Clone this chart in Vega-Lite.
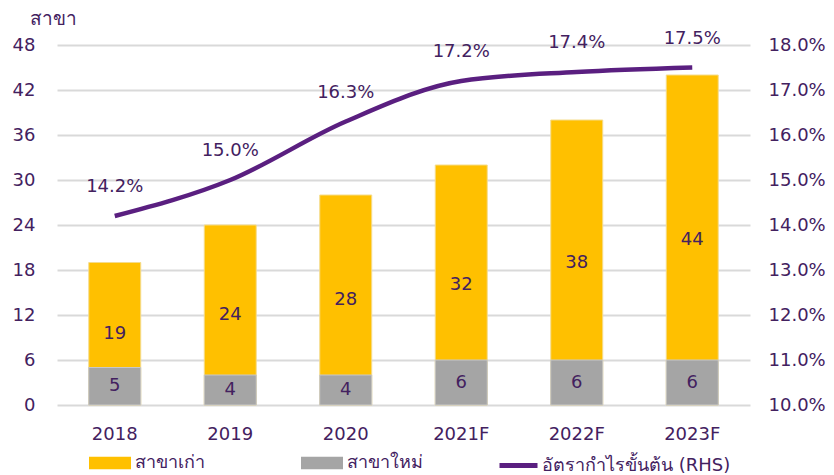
{
  "$schema": "https://vega.github.io/schema/vega-lite/v6.json",
  "width": 693,
  "height": 360,
  "autosize": {"type": "none"},
  "padding": {"left": 57, "top": 45, "right": 84, "bottom": 70},
  "background": "white",
  "config": {
    "view": {"stroke": null},
    "font": "DejaVu Sans",
    "axis": {"labelFont": "DejaVu Sans", "labelColor": "#43215f", "labelFontSize": 18, "titleColor": "#43215f"},
    "legend": {"labelFont": "DejaVu Sans", "labelColor": "#43215f", "labelFontSize": 18, "labelLimit": 400}
  },
  "datasets": {
    "old": [
      {"year": "2018", "series": "สาขาเก่า", "value": 19},
      {"year": "2019", "series": "สาขาเก่า", "value": 24},
      {"year": "2020", "series": "สาขาเก่า", "value": 28},
      {"year": "2021F", "series": "สาขาเก่า", "value": 32},
      {"year": "2022F", "series": "สาขาเก่า", "value": 38},
      {"year": "2023F", "series": "สาขาเก่า", "value": 44}
    ],
    "new": [
      {"year": "2018", "series": "สาขาใหม่", "value": 5},
      {"year": "2019", "series": "สาขาใหม่", "value": 4},
      {"year": "2020", "series": "สาขาใหม่", "value": 4},
      {"year": "2021F", "series": "สาขาใหม่", "value": 6},
      {"year": "2022F", "series": "สาขาใหม่", "value": 6},
      {"year": "2023F", "series": "สาขาใหม่", "value": 6}
    ],
    "margin": [
      {"year": "2018", "series": "อัตรากำไรขั้นต้น (RHS)", "margin": 0.142},
      {"year": "2019", "series": "อัตรากำไรขั้นต้น (RHS)", "margin": 0.150},
      {"year": "2020", "series": "อัตรากำไรขั้นต้น (RHS)", "margin": 0.163},
      {"year": "2021F", "series": "อัตรากำไรขั้นต้น (RHS)", "margin": 0.172},
      {"year": "2022F", "series": "อัตรากำไรขั้นต้น (RHS)", "margin": 0.174},
      {"year": "2023F", "series": "อัตรากำไรขั้นต้น (RHS)", "margin": 0.175}
    ]
  },
  "encoding": {
    "x": {
      "field": "year", "type": "nominal", "sort": null,
      "scale": {"paddingInner": 0.55, "paddingOuter": 0.275},
      "axis": {"title": null, "labelAngle": 0, "ticks": false, "domain": false, "labelPadding": 20, "labelFontSize": 18}
    }
  },
  "layer": [
    {
      "layer": [
        {
          "data": {"name": "old"},
          "mark": {"type": "bar", "stroke": "#f5dc8c", "strokeWidth": 1},
          "encoding": {
            "y": {
              "field": "value", "type": "quantitative",
              "scale": {"domain": [0, 48], "nice": false},
              "axis": {
                "values": [0, 6, 12, 18, 24, 30, 36, 42, 48],
                "title": "สาขา", "titleAngle": 0, "titleAlign": "left", "titleBaseline": "middle",
                "titleX": -28, "titleY": -27, "titleFontSize": 19, "titleFontWeight": "normal",
                "ticks": false, "domain": false, "labelPadding": 22,
                "gridColor": "#d9d9d9", "gridWidth": 2
              }
            },
            "color": {
              "field": "series", "type": "nominal",
              "scale": {"domain": ["สาขาเก่า", "สาขาใหม่"], "range": ["#FFC000", "#A5A5A5"]},
              "legend": {
                "title": null, "orient": "none", "direction": "horizontal",
                "legendX": 32, "legendY": 397, "columnPadding": 96,
                "symbolSize": 1764, "labelOffset": 4,
                "symbolType": "M-1,-0.3H1V0.3H-1Z",
                "symbolStrokeWidth": 0, "symbolOpacity": 1
              }
            }
          }
        },
        {
          "data": {"name": "new"},
          "mark": {"type": "bar", "stroke": "#c8c8c8", "strokeWidth": 1},
          "encoding": {
            "y": {"field": "value", "type": "quantitative"},
            "color": {"field": "series", "type": "nominal"}
          }
        },
        {
          "data": {"name": "old"},
          "transform": [{"calculate": "datum.value / 2", "as": "mid"}],
          "mark": {"type": "text", "fontSize": 18, "color": "#43215f", "font": "DejaVu Sans"},
          "encoding": {
            "y": {"field": "mid", "type": "quantitative"},
            "text": {"field": "value", "type": "quantitative"}
          }
        },
        {
          "data": {"name": "new"},
          "transform": [{"calculate": "datum.value / 2", "as": "mid"}],
          "mark": {"type": "text", "fontSize": 18, "color": "#43215f", "font": "DejaVu Sans"},
          "encoding": {
            "y": {"field": "mid", "type": "quantitative"},
            "text": {"field": "value", "type": "quantitative"}
          }
        }
      ]
    },
    {
      "data": {"name": "margin"},
      "layer": [
        {
          "mark": {"type": "line", "interpolate": "monotone", "strokeWidth": 4.5},
          "encoding": {
            "y": {
              "field": "margin", "type": "quantitative",
              "scale": {"domain": [0.10, 0.18], "nice": false},
              "axis": {
                "orient": "right", "format": ".1%", "title": null,
                "values": [0.10, 0.11, 0.12, 0.13, 0.14, 0.15, 0.16, 0.17, 0.18],
                "grid": false, "ticks": false, "domain": false, "labelPadding": 18
              }
            },
            "stroke": {
              "field": "series", "type": "nominal",
              "scale": {"domain": ["อัตรากำไรขั้นต้น (RHS)"], "range": ["#5a1f80"]},
              "legend": {
                "title": null, "orient": "none", "direction": "horizontal",
                "legendX": 440, "legendY": 399, "symbolType": "stroke",
                "symbolSize": 1444, "symbolStrokeWidth": 5, "labelOffset": 2
              }
            }
          }
        },
        {
          "mark": {"type": "text", "fontSize": 18, "color": "#43215f", "dy": -29, "font": "DejaVu Sans"},
          "encoding": {
            "y": {"field": "margin", "type": "quantitative"},
            "text": {"field": "margin", "type": "quantitative", "format": ".1%"}
          }
        }
      ]
    }
  ],
  "resolve": {"scale": {"y": "independent"}}
}
